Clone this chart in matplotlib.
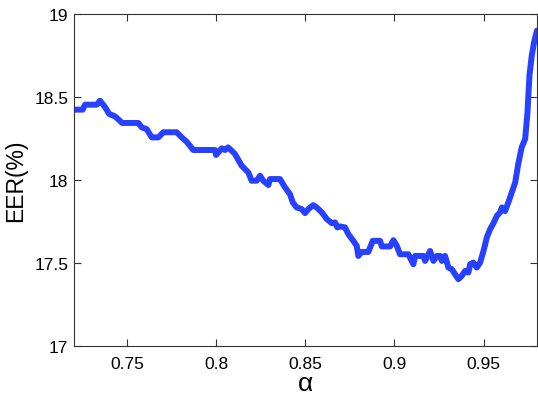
import matplotlib
matplotlib.use("Agg")
import matplotlib.pyplot as plt

plt.rcParams['font.family'] = ['Liberation Sans', 'DejaVu Sans']

# alpha values and EER (%)
alpha = [0.7200, 0.7249, 0.7262, 0.7328, 0.7346, 0.7374, 0.7398, 0.7430, 0.7458, 0.7470,
         0.7561, 0.7580, 0.7608, 0.7637, 0.7674, 0.7702, 0.7777, 0.7805, 0.7833, 0.7870,
         0.7992, 0.7998, 0.8030, 0.8048, 0.8065, 0.8076, 0.8104, 0.8142, 0.8179, 0.8198,
         0.8226, 0.8245, 0.8263, 0.8292, 0.8301, 0.8357, 0.8385, 0.8413, 0.8429, 0.8451,
         0.8479, 0.8498, 0.8516, 0.8544, 0.8563, 0.8592, 0.8620, 0.8648, 0.8666, 0.8679,
         0.8694, 0.8722, 0.8741, 0.8769, 0.8788, 0.8797, 0.8816, 0.8853, 0.8878, 0.8919,
         0.8929, 0.8975, 0.8994, 0.9013, 0.9031, 0.9078, 0.9106, 0.9116, 0.9162, 0.9172,
         0.9200, 0.9219, 0.9238, 0.9256, 0.9266, 0.9284, 0.9303, 0.9322, 0.9340, 0.9359,
         0.9378, 0.9397, 0.9415, 0.9425, 0.9443, 0.9462, 0.9481, 0.9500, 0.9519, 0.9537,
         0.9556, 0.9575, 0.9593, 0.9603, 0.9621, 0.9640, 0.9659, 0.9678, 0.9696, 0.9715,
         0.9734, 0.9747, 0.9758, 0.9771, 0.9784, 0.9800]
eer = [18.423, 18.423, 18.453, 18.453, 18.477, 18.439, 18.397, 18.383, 18.356, 18.343,
       18.343, 18.317, 18.306, 18.256, 18.256, 18.287, 18.287, 18.256, 18.230, 18.180,
       18.180, 18.150, 18.190, 18.180, 18.196, 18.186, 18.156, 18.085, 18.045, 17.995,
       17.995, 18.025, 17.995, 17.969, 18.005, 18.005, 17.955, 17.914, 17.864, 17.834,
       17.824, 17.800, 17.824, 17.848, 17.834, 17.804, 17.764, 17.739, 17.744, 17.714,
       17.720, 17.714, 17.673, 17.633, 17.603, 17.542, 17.566, 17.566, 17.633, 17.633,
       17.599, 17.599, 17.637, 17.603, 17.552, 17.552, 17.492, 17.542, 17.542, 17.512,
       17.572, 17.512, 17.542, 17.542, 17.512, 17.542, 17.472, 17.462, 17.432, 17.402,
       17.422, 17.452, 17.442, 17.492, 17.502, 17.472, 17.502, 17.572, 17.655, 17.703,
       17.739, 17.783, 17.804, 17.834, 17.812, 17.866, 17.925, 17.985, 18.101, 18.198,
       18.246, 18.407, 18.628, 18.748, 18.829, 18.899]

xticks = [0.75, 0.8, 0.85, 0.9, 0.95]
xticklabels = ['0.75', '0.8', '0.85', '0.9', '0.95']
yticks = [17, 17.5, 18, 18.5, 19]
yticklabels = ['17', '17.5', '18', '18.5', '19']

fig = plt.figure(figsize=(5.38, 4.02), dpi=100)
ax = fig.add_axes([0.1375, 0.137, 0.8605, 0.826])

ax.plot(alpha, eer, color='#2840ff', linewidth=4.3, solid_joinstyle='round',
        solid_capstyle='round')

ax.set_xlim(0.72, 0.98)
ax.set_ylim(17, 19)
ax.set_xticks(xticks)
ax.set_xticklabels(xticklabels)
ax.set_yticks(yticks)
ax.set_yticklabels(yticklabels)
ax.tick_params(direction='in', top=True, right=True, length=5, width=0.8,
               labelsize=12.5, color='#333333')
ax.tick_params(axis='y', pad=4)
ax.tick_params(axis='x', pad=7)
for s in ax.spines.values():
    s.set_color('#333333')
    s.set_linewidth(0.8)

ax.set_xlabel('α', fontsize=19, labelpad=0)
ax.set_ylabel('EER(%)', fontsize=16.5, labelpad=5)

fig.savefig('out.png', dpi=100)
